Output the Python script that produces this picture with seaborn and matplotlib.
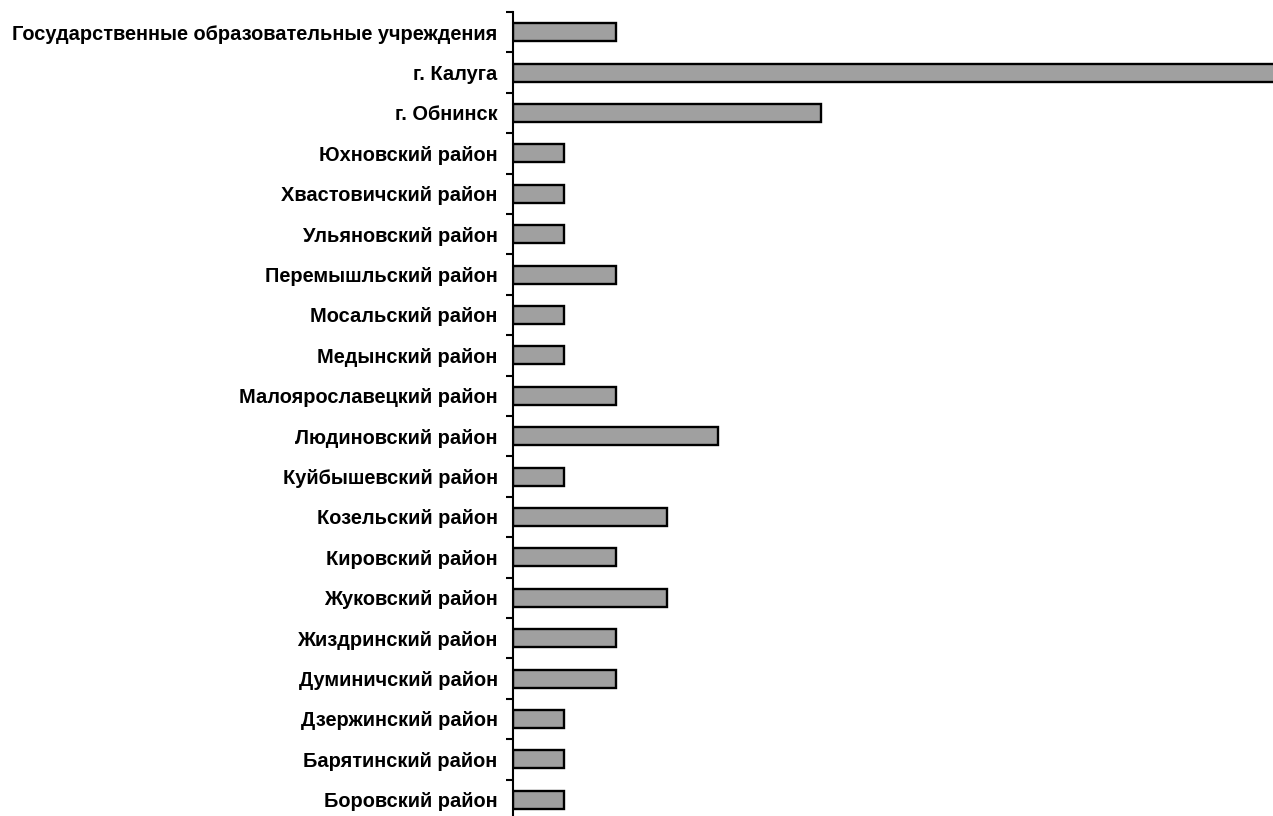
import pandas as pd
import numpy as np
import seaborn as sns
import matplotlib.pyplot as plt

# Data (top to bottom)
districts = ['Государственные образовательные учреждения', 'г. Калуга', 'г. Обнинск',
             'Юхновский район', 'Хвастовичский район', 'Ульяновский район',
             'Перемышльский район', 'Мосальский район', 'Медынский район',
             'Малоярославецкий район', 'Людиновский район', 'Куйбышевский район',
             'Козельский район', 'Кировский район', 'Жуковский район',
             'Жиздринский район', 'Думиничский район', 'Дзержинский район',
             'Барятинский район', 'Боровский район']
counts = [2, 16, 6, 1, 1, 1, 2, 1, 1, 2, 4, 1, 3, 2, 3, 2, 2, 1, 1, 1]

df = pd.DataFrame({'district': districts, 'count': counts})

sns.set_theme(style='white')
plt.rcParams['font.family'] = ['Liberation Sans', 'DejaVu Sans']

fig = plt.figure(figsize=(12.73, 8.16), dpi=100)
ax = fig.add_axes([513/1273, -4/816, 1 - 513/1273, 808/816])

sns.barplot(data=df, x='count', y='district', orient='h', color='#a0a0a0',
            edgecolor='black', linewidth=1.7, width=0.45, saturation=1, ax=ax)

ax.set_xlim(0, 14.8)
ax.set_ylim(len(districts) - 0.5, -0.5)
ax.set_xlabel('')
ax.set_ylabel('')
ax.set_xticks([])
for s in ['top', 'right', 'bottom']:
    ax.spines[s].set_visible(False)
ax.spines['left'].set_color('black')
ax.spines['left'].set_linewidth(1.5)

ax.tick_params(axis='y', which='major', length=0, pad=11, labelsize=14.4, labelcolor='black')
ax.set_yticks(np.arange(-0.5, len(districts), 1), minor=True)
ax.tick_params(axis='y', which='minor', left=True, length=5, width=1.5, color='black', direction='out')
for lab in ax.get_yticklabels():
    lab.set_fontweight('bold')

fig.savefig('out.png', dpi=100)
